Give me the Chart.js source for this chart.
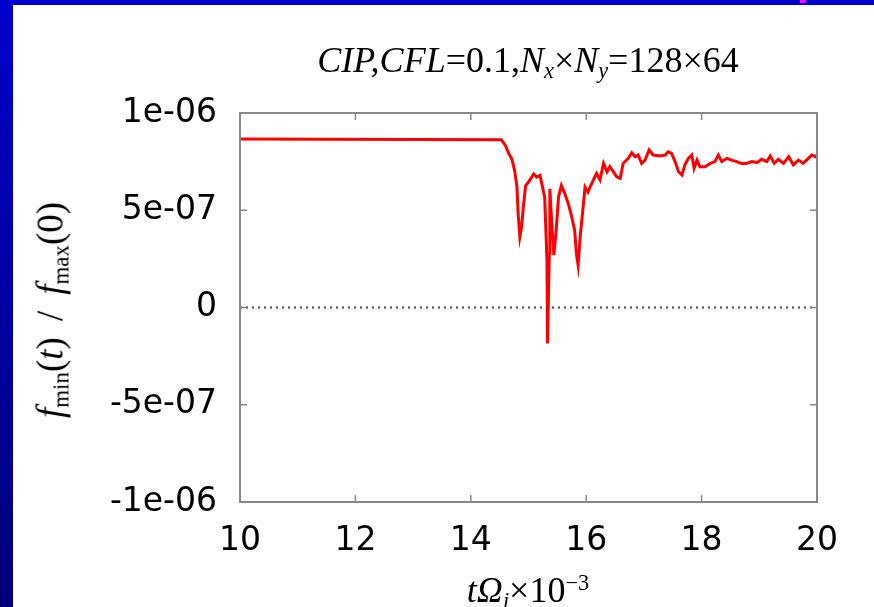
<!DOCTYPE html>
<html>
<head>
<meta charset="utf-8">
<script src="https://cdn.jsdelivr.net/npm/chart.js@4.4.1/dist/chart.umd.min.js"></script>
<style>
  html, body { margin: 0; padding: 0; }
  body {
    width: 874px; height: 607px; overflow: hidden; position: relative;
    background: linear-gradient(#0000cc, #00007a);
  }
  .panel { position: absolute; left: 13px; top: 5px; width: 861px; height: 602px; background: #fff; }
  .spot { position: absolute; left: 800px; top: 0; width: 6px; height: 3px; background: #ff00ff; }
  #chart { position: absolute; left: 0; top: 0; }
  .lbl { position: absolute; font-family: 'Liberation Serif', 'Times New Roman', serif; color: #000; white-space: nowrap; line-height: 1; }
  .lbl i { font-style: italic; }
  .lbl sub { font-size: 0.62em; vertical-align: -0.28em; line-height: 0; }
  .lbl sup { font-size: 0.62em; vertical-align: 0.55em; line-height: 0; }
  #title { left: 528px; top: 60px; font-size: 36px; transform: translate(-50%, -50%); }
  #xtitle { left: 528px; top: 590px; font-size: 36px; transform: translate(-50%, -50%); }
  #ytitle { left: 50px; top: 310px; font-size: 37px; transform: translate(-50%, -50%) rotate(-90deg); }
  #ytitle .gap { display: inline-block; width: 16px; }
</style>
</head>
<body>
<div class="panel"></div>
<div class="spot"></div>
<canvas id="chart" width="874" height="607"></canvas>
<div class="lbl" id="title"><i>CIP,CFL</i>=0.1,<i>N<sub>x</sub></i>×<i>N<sub>y</sub></i>=128×64</div>
<div class="lbl" id="xtitle"><i>t</i><i>Ω<sub>i</sub></i>×10<sup>−3</sup></div>
<div class="lbl" id="ytitle"><i>f</i><sub>min</sub>(<i>t</i>)<span class="gap"></span>/<span class="gap"></span><i>f</i><sub>max</sub>(0)</div>
<script>
// time axis (t * Omega_i * 1e-3)
const tValues = [10, 14.53, 14.60, 14.66, 14.71, 14.76, 14.80, 14.82, 14.85, 14.88, 14.91, 14.95,
  15.00, 15.09, 15.14, 15.20, 15.23, 15.28, 15.32, 15.33, 15.36, 15.37, 15.40, 15.44, 15.48,
  15.52, 15.57, 15.63, 15.69, 15.75, 15.80, 15.83, 15.86, 15.90, 15.93, 15.98, 16.03, 16.07,
  16.18, 16.24, 16.30, 16.36, 16.41, 16.53, 16.59, 16.64, 16.73, 16.79, 16.85, 16.90, 16.96,
  17.02, 17.09, 17.16, 17.28, 17.37, 17.42, 17.48, 17.54, 17.60, 17.66, 17.71, 17.77, 17.83,
  17.87, 17.92, 17.97, 18.06, 18.15, 18.23, 18.29, 18.35, 18.44, 18.52, 18.61, 18.69, 18.78,
  18.87, 18.96, 19.04, 19.13, 19.19, 19.26, 19.33, 19.42, 19.51, 19.59, 19.68, 19.76, 19.85,
  19.91, 19.97, 20.0]

// f_min(t) / f_max(0)
const fMinRatio = [8.66e-7, 8.62e-7, 8.33e-7, 7.90e-7, 7.64e-7, 7.04e-7, 6.19e-7, 4.82e-7, 3.63e-7, 4.14e-7, 5.16e-7, 6.27e-7,
  6.45e-7, 6.87e-7, 6.70e-7, 6.79e-7, 6.36e-7, 5.68e-7, 2.43e-7, -1.85e-7, 2.77e-7, 6.10e-7, 4.48e-7, 2.69e-7, 3.97e-7,
  5.68e-7, 6.27e-7, 5.85e-7, 5.34e-7, 4.65e-7, 3.97e-7, 2.77e-7, 2.17e-7, 3.80e-7, 4.65e-7, 6.19e-7, 5.93e-7, 6.21e-7,
  6.90e-7, 6.56e-7, 7.41e-7, 6.98e-7, 7.24e-7, 6.72e-7, 6.64e-7, 7.41e-7, 7.67e-7, 7.96e-7, 7.75e-7, 7.84e-7, 7.41e-7,
  7.58e-7, 8.10e-7, 7.84e-7, 7.79e-7, 7.84e-7, 8.01e-7, 7.93e-7, 7.50e-7, 6.98e-7, 6.81e-7, 7.33e-7, 7.67e-7, 7.84e-7,
  7.16e-7, 7.58e-7, 7.24e-7, 7.24e-7, 7.41e-7, 7.50e-7, 7.84e-7, 7.50e-7, 7.67e-7, 7.58e-7, 7.50e-7, 7.41e-7, 7.41e-7,
  7.50e-7, 7.45e-7, 7.62e-7, 7.50e-7, 7.79e-7, 7.41e-7, 7.62e-7, 7.41e-7, 7.75e-7, 7.33e-7, 7.58e-7, 7.41e-7, 7.67e-7,
  7.84e-7, 7.75e-7, 7.84e-7]

// dotted reference line at zero
const zeroT = [10, 20]
const zeroV = [0, 0]

const xTicks = [10, 12, 14, 16, 18, 20]
const yTicks = [-1e-6, -5e-7, 0, 5e-7, 1e-6]
const yTickLabels = ['-1e-06', '-5e-07', '0', '5e-07', '1e-06']

const toPoints = (xs, ys) => xs.map((x, i) => ({ x: x, y: ys[i] }))

// frame plus inward ticks on all four sides, gnuplot style
const framePlugin = {
  id: 'frame',
  afterDatasetsDraw (chart) {
    const { ctx, chartArea: a, scales } = chart
    ctx.save()
    ctx.strokeStyle = '#888'
    ctx.lineWidth = 2
    ctx.strokeRect(a.left, a.top, a.right - a.left, a.bottom - a.top)
    ctx.lineWidth = 1.5
    ctx.beginPath()
    xTicks.slice(1, -1).forEach(v => {
      const px = scales.x.getPixelForValue(v)
      ctx.moveTo(px, a.bottom); ctx.lineTo(px, a.bottom - 7)
      ctx.moveTo(px, a.top); ctx.lineTo(px, a.top + 7)
    })
    yTicks.slice(1, -1).forEach(v => {
      const py = scales.y.getPixelForValue(v)
      ctx.moveTo(a.left, py); ctx.lineTo(a.left + 7, py)
      ctx.moveTo(a.right, py); ctx.lineTo(a.right - 7, py)
    })
    ctx.stroke()
    ctx.restore()
  }
}

const tickFont = { family: "'DejaVu Sans', sans-serif", size: 33 }

new Chart(document.getElementById('chart'), {
  type: 'line',
  data: {
    datasets: [
      {
        data: toPoints(zeroT, zeroV),
        borderColor: '#444',
        borderWidth: 2,
        borderDash: [2, 4],
        pointRadius: 0
      },
      {
        data: toPoints(tValues, fMinRatio),
        borderColor: '#ff0000',
        borderWidth: 3,
        pointRadius: 0,
        tension: 0
      }
    ]
  },
  options: {
    responsive: false,
    animation: false,
    layout: { padding: { left: 0, top: 113, right: 57, bottom: 0 } },
    plugins: { legend: { display: false }, tooltip: { enabled: false } },
    scales: {
      x: {
        type: 'linear',
        min: 10,
        max: 20,
        grid: { display: false, drawTicks: false },
        border: { display: false },
        afterBuildTicks: scale => { scale.ticks = xTicks.map(v => ({ value: v })) },
        afterFit: scale => { scale.height = 105 },
        ticks: { color: '#000', font: tickFont, padding: 20, maxRotation: 0 }
      },
      y: {
        min: -1e-6,
        max: 1e-6,
        grid: { display: false, drawTicks: false },
        border: { display: false },
        afterBuildTicks: scale => { scale.ticks = yTicks.map(v => ({ value: v })) },
        afterFit: scale => { scale.width = 240 },
        ticks: {
          color: '#000',
          font: tickFont,
          padding: 23,
          callback: (v, i) => yTickLabels[i]
        }
      }
    }
  },
  plugins: [framePlugin]
})
</script>
</body>
</html>
